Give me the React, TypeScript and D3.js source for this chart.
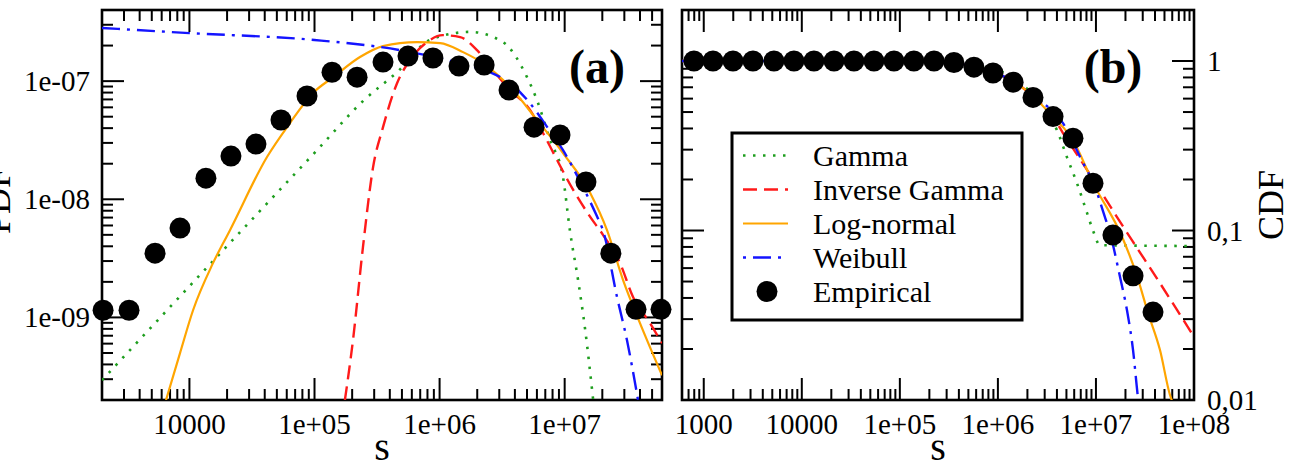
import React from "react";
import * as d3 from "d3";

// ---------- data: panel (a), probability density ----------
const pdfSizes = [2040, 3290, 5310, 8410, 13550, 21480, 34040, 53950, 87100, 1.38e5, 2.19e5, 3.53e5, 5.59e5, 8.85e5, 1.43e6, 2.27e6, 3.59e6, 5.69e6, 9.18e6, 1.48e7, 2.34e7, 3.72e7, 5.89e7];
const pdfEmpirical = [1.15e-9, 1.15e-9, 3.5e-9, 5.7e-9, 1.51e-8, 2.32e-8, 2.93e-8, 4.69e-8, 7.48e-8, 1.19e-7, 1.08e-7, 1.45e-7, 1.63e-7, 1.57e-7, 1.34e-7, 1.37e-7, 8.4e-8, 4.08e-8, 3.5e-8, 1.4e-8, 3.5e-9, 1.17e-9, 1.17e-9];

const gammaPdfS = [2000, 6620, 25400, 1.05e5, 2.44e5, 4.57e5, 8.38e5, 1.75e6, 3.21e6, 5.0e6, 6.01e6, 7.64e6, 9.7e6, 1.1e7, 1.28e7, 1.46e7, 1.69e7];
const gammaPdf = [2.94e-10, 1.15e-9, 5.27e-9, 2.61e-8, 6.78e-8, 1.19e-7, 2.23e-7, 2.61e-7, 2.14e-7, 1.08e-7, 6.9e-8, 3.17e-8, 1.54e-8, 5.48e-9, 2.07e-9, 7.8e-10, 2.0e-10];

const invGammaPdfS = [1.75e5, 2.03e5, 2.44e5, 2.94e5, 3.53e5, 4.57e5, 5.8e5, 7.93e5, 1.06e6, 1.46e6, 1.99e6, 2.67e6, 3.66e6, 5.28e6, 6.71e6, 8.69e6, 1.17e7, 1.6e7, 2.03e7, 2.77e7, 3.52e7, 4.81e7, 6.0e7];
const invGammaPdf = [2.0e-10, 6.4e-10, 3.94e-9, 1.87e-8, 4.08e-8, 9.6e-8, 1.51e-7, 2.14e-7, 2.45e-7, 2.36e-7, 1.83e-7, 1.24e-7, 8.4e-8, 5.7e-8, 3.64e-8, 2.15e-8, 1.2e-8, 7.1e-9, 4.98e-9, 2.88e-9, 1.49e-9, 8.95e-10, 6.05e-10];

const logNormalPdfS = [6500, 8410, 10690, 15430, 21100, 41700, 63700, 97200, 1.41e5, 2.31e5, 3.53e5, 6.6e5, 1.01e6, 1.54e6, 2.22e6, 3.66e6, 6.01e6, 9.7e6, 1.6e7, 2.18e7, 2.93e7, 4.0e7, 6.0e7];
const logNormalPdf = [2.0e-10, 4.99e-10, 1.15e-9, 2.88e-9, 5.48e-9, 2.28e-8, 4.42e-8, 7.93e-8, 1.08e-7, 1.6e-7, 1.98e-7, 2.14e-7, 2.1e-7, 1.76e-7, 1.42e-7, 8.9e-8, 4.69e-8, 2.46e-8, 1.13e-8, 5.48e-9, 2.07e-9, 8.95e-10, 3.24e-10];

const weibullPdfS = [2000, 1.0e4, 1.0e5, 4.82e5, 1.43e6, 2.53e6, 3.66e6, 5.28e6, 7.23e6, 9.7e6, 1.4e7, 1.82e7, 2.02e7, 2.62e7, 3.15e7, 3.86e7];
const weibullPdf = [2.82e-7, 2.55e-7, 2.23e-7, 1.83e-7, 1.42e-7, 1.19e-7, 9.6e-8, 6.5e-8, 4.1e-8, 2.6e-8, 1.27e-8, 7.1e-9, 5.5e-9, 1.49e-9, 6.4e-10, 2.0e-10];

// ---------- data: panel (b), complementary cumulative distribution ----------
const cdfSizes = [794, 1242, 1987, 3177, 5200, 8318, 13300, 21300, 34040, 54450, 87100, 1.39e5, 2.23e5, 3.56e5, 5.7e5, 8.91e5, 1.43e6, 2.28e6, 3.65e6, 5.83e6, 9.33e6, 1.49e7, 2.39e7, 3.82e7];
const cdfEmpirical = [1, 1, 1, 1, 1, 1, 1, 1, 1, 1, 1, 1, 1, 0.98, 0.92, 0.85, 0.75, 0.61, 0.47, 0.35, 0.19, 0.094, 0.054, 0.033];

const gammaCdfS = [600, 1.0e5, 3.24e5, 6.56e5, 1.24e6, 2.12e6, 3.02e6, 4.01e6, 5.07e6, 6.41e6, 8.11e6, 9.33e6, 1.1e7, 1.0e8];
const gammaCdf = [1, 1, 0.97, 0.92, 0.84, 0.66, 0.51, 0.39, 0.27, 0.19, 0.127, 0.1, 0.082, 0.081];

const invGammaCdfS = [600, 1.0e5, 3.3e5, 8.9e5, 1.43e6, 2.28e6, 3.65e6, 4.61e6, 6.88e6, 1.1e7, 1.64e7, 2.62e7, 4.2e7, 6.71e7, 1.0e8];
const invGammaCdf = [1, 1, 0.975, 0.86, 0.76, 0.62, 0.468, 0.376, 0.264, 0.173, 0.12, 0.079, 0.052, 0.034, 0.0236];

const logNormalCdfS = [600, 1.0e5, 3.3e5, 8.9e5, 1.43e6, 2.28e6, 3.65e6, 5.83e6, 9.33e6, 1.85e7, 2.62e7, 3.4e7, 4.5e7, 5.69e7, 6.5e7];
const logNormalCdf = [1, 1, 0.975, 0.86, 0.76, 0.62, 0.468, 0.342, 0.191, 0.0916, 0.054, 0.0326, 0.0197, 0.0107, 0.0088];

const weibullCdfS = [600, 1.0e5, 3.3e5, 8.9e5, 1.43e6, 2.28e6, 2.88e6, 4.61e6, 6.88e6, 1.03e7, 1.18e7, 1.39e7, 1.76e7, 2.07e7, 2.39e7, 2.68e7, 2.9e7];
const weibullCdf = [1, 1, 0.975, 0.86, 0.76, 0.62, 0.565, 0.43, 0.272, 0.166, 0.13, 0.0966, 0.0532, 0.034, 0.0197, 0.0104, 0.0075];

// ---------- tick labels ----------
const pdfXTickValues = [1e4, 1e5, 1e6, 1e7];
const pdfXTickLabels = ["10000", "1e+05", "1e+06", "1e+07"];
const pdfYTickValues = [1e-9, 1e-8, 1e-7];
const pdfYTickLabels = ["1e-09", "1e-08", "1e-07"];
const cdfXTickValues = [1e3, 1e4, 1e5, 1e6, 1e7, 1e8];
const cdfXTickLabels = ["1000", "10000", "1e+05", "1e+06", "1e+07", "1e+08"];
const cdfYTickValues = [0.01, 0.1, 1];
const cdfYTickLabels = ["0,01", "0,1", "1"];

const legendNames = ["Gamma", "Inverse Gamma", "Log-normal", "Weibull", "Empirical"];

// ---------- styling ----------
const FONT = "Liberation Serif, Times New Roman, Times, serif";
const TXT: React.CSSProperties = { fontFamily: FONT };

type StyleKey = "gamma" | "invGamma" | "logNormal" | "weibull";
const LINE_STYLES: Record<StyleKey, { stroke: string; width: number; dash: string; legendOffset: number }> = {
  gamma: { stroke: "#1e9e1e", width: 2.6, dash: "2.5,7.5", legendOffset: 0 },
  invGamma: { stroke: "#ff1a1a", width: 2.4, dash: "14,7", legendOffset: 0 },
  logNormal: { stroke: "#ffa500", width: 2.2, dash: "none", legendOffset: 0 },
  weibull: { stroke: "#1414ff", width: 2.4, dash: "18,7,3,7", legendOffset: 25 },
};

const PANEL_A = { left: 102, right: 662, top: 10, bottom: 400 };
const PANEL_B = { left: 682, right: 1194, top: 10, bottom: 400 };
const MAJOR = 22;
const MINOR = 11;
const DOT_R = 10.5;

function logTicks(lo: number, hi: number) {
  const major: number[] = [];
  const minor: number[] = [];
  for (let e = Math.floor(Math.log10(lo)); e <= Math.ceil(Math.log10(hi)); e++) {
    for (let k = 1; k <= 9; k++) {
      const v = k * Math.pow(10, e);
      if (v > lo * 1.0001 && v < hi * 0.9999) (k === 1 ? major : minor).push(v);
    }
  }
  return { major, minor };
}

type Scale = d3.ScaleLogarithmic<number, number>;
type Box = { left: number; right: number; top: number; bottom: number };

function Frame({ box, x, y }: { box: Box; x: Scale; y: Scale }) {
  const xt = logTicks(x.domain()[0], x.domain()[1]);
  const yt = logTicks(y.domain()[0], y.domain()[1]);
  const lines: React.ReactElement[] = [];
  const push = (key: string, x1: number, y1: number, x2: number, y2: number) =>
    lines.push(<line key={key} x1={x1} y1={y1} x2={x2} y2={y2} />);
  xt.major.forEach((v, i) => {
    const px = x(v);
    push(`xb${i}`, px, box.bottom, px, box.bottom - MAJOR);
    push(`xt${i}`, px, box.top, px, box.top + MAJOR);
  });
  xt.minor.forEach((v, i) => {
    const px = x(v);
    push(`xbm${i}`, px, box.bottom, px, box.bottom - MINOR);
    push(`xtm${i}`, px, box.top, px, box.top + MINOR);
  });
  yt.major.forEach((v, i) => {
    const py = y(v);
    push(`yl${i}`, box.left, py, box.left + MAJOR, py);
    push(`yr${i}`, box.right, py, box.right - MAJOR, py);
  });
  yt.minor.forEach((v, i) => {
    const py = y(v);
    push(`ylm${i}`, box.left, py, box.left + MINOR, py);
    push(`yrm${i}`, box.right, py, box.right - MINOR, py);
  });
  return (
    <g>
      <g stroke="#000" strokeWidth={2}>{lines}</g>
      <rect
        x={box.left}
        y={box.top}
        width={box.right - box.left}
        height={box.bottom - box.top}
        fill="none"
        stroke="#000"
        strokeWidth={2.6}
      />
    </g>
  );
}

function Curve({ s, v, x, y, style, clip }: { s: number[]; v: number[]; x: Scale; y: Scale; style: StyleKey; clip: string }) {
  const st = LINE_STYLES[style];
  const gen = d3
    .line<number>()
    .x((d) => x(d))
    .y((_, i) => y(v[i]))
    .curve(d3.curveMonotoneX);
  return (
    <path
      d={gen(s) || ""}
      fill="none"
      stroke={st.stroke}
      strokeWidth={st.width}
      strokeDasharray={st.dash}
      clipPath={`url(#${clip})`}
    />
  );
}

export default function App() {
  const xA = d3.scaleLog().domain([2000, 6e7]).range([PANEL_A.left, PANEL_A.right]);
  const yA = d3.scaleLog().domain([2e-10, 4e-7]).range([PANEL_A.bottom, PANEL_A.top]);
  const xB = d3.scaleLog().domain([600, 1e8]).range([PANEL_B.left, PANEL_B.right]);
  const yB = d3.scaleLog().domain([0.01, 2]).range([PANEL_B.bottom, PANEL_B.top]);

  const legendX = 732;
  const legendY = 133;
  const legendW = 290;
  const legendH = 187;
  const legendStyles: (StyleKey | "dot")[] = ["gamma", "invGamma", "logNormal", "weibull", "dot"];

  return (
    <svg
      width={1302}
      height={465}
      viewBox="0 0 1302 465"
      style={{ position: "absolute", left: 0, top: 0, background: "#fff", fontFamily: FONT }}
    >
      <defs>
        <clipPath id="clipA">
          <rect x={PANEL_A.left} y={PANEL_A.top} width={PANEL_A.right - PANEL_A.left} height={PANEL_A.bottom - PANEL_A.top} />
        </clipPath>
        <clipPath id="clipB">
          <rect x={PANEL_B.left} y={PANEL_B.top} width={PANEL_B.right - PANEL_B.left} height={PANEL_B.bottom - PANEL_B.top} />
        </clipPath>
      </defs>
      <rect x={0} y={0} width={1302} height={465} fill="#fff" />

      {/* Panel (a): PDF */}
      <Frame box={PANEL_A} x={xA} y={yA} />
      <Curve s={gammaPdfS} v={gammaPdf} x={xA} y={yA} style="gamma" clip="clipA" />
      <Curve s={invGammaPdfS} v={invGammaPdf} x={xA} y={yA} style="invGamma" clip="clipA" />
      <Curve s={logNormalPdfS} v={logNormalPdf} x={xA} y={yA} style="logNormal" clip="clipA" />
      <Curve s={weibullPdfS} v={weibullPdf} x={xA} y={yA} style="weibull" clip="clipA" />
      <g fill="#000">
        {pdfSizes.map((s, i) => (
          <circle key={i} cx={xA(s)} cy={yA(pdfEmpirical[i])} r={DOT_R} />
        ))}
      </g>
      <g fontSize={29} fill="#000">
        {pdfXTickValues.map((v, i) => (
          <text key={i} x={xA(v)} y={434} textAnchor="middle" style={TXT}>{pdfXTickLabels[i]}</text>
        ))}
        {pdfYTickValues.map((v, i) => (
          <text key={i} x={90} y={yA(v) + 10} textAnchor="end" style={TXT}>{pdfYTickLabels[i]}</text>
        ))}
      </g>
      <text x={(PANEL_A.left + PANEL_A.right) / 2} y={460} fontSize={40} textAnchor="middle" style={TXT}>s</text>
      <text transform="translate(10,201) rotate(-90)" fontSize={36} textAnchor="middle" style={TXT}>PDF</text>
      <text x={597} y={83} fontSize={48} fontWeight="bold" textAnchor="middle" style={TXT}>(a)</text>

      {/* Panel (b): CDF */}
      <Frame box={PANEL_B} x={xB} y={yB} />
      <Curve s={gammaCdfS} v={gammaCdf} x={xB} y={yB} style="gamma" clip="clipB" />
      <Curve s={invGammaCdfS} v={invGammaCdf} x={xB} y={yB} style="invGamma" clip="clipB" />
      <Curve s={logNormalCdfS} v={logNormalCdf} x={xB} y={yB} style="logNormal" clip="clipB" />
      <Curve s={weibullCdfS} v={weibullCdf} x={xB} y={yB} style="weibull" clip="clipB" />
      <g fill="#000">
        {cdfSizes.map((s, i) => (
          <circle key={i} cx={xB(s)} cy={yB(cdfEmpirical[i])} r={DOT_R} />
        ))}
      </g>
      <g fontSize={29} fill="#000">
        {cdfXTickValues.map((v, i) => (
          <text key={i} x={xB(v)} y={434} textAnchor="middle" style={TXT}>{cdfXTickLabels[i]}</text>
        ))}
        {cdfYTickValues.map((v, i) => (
          <text key={i} x={1207} y={yB(v) + 10} textAnchor="start" style={TXT}>{cdfYTickLabels[i]}</text>
        ))}
      </g>
      <text x={(PANEL_B.left + PANEL_B.right) / 2} y={460} fontSize={40} textAnchor="middle" style={TXT}>s</text>
      <text transform="translate(1283,205) rotate(-90)" fontSize={36} textAnchor="middle" style={TXT}>CDF</text>
      <text x={1113} y={83} fontSize={48} fontWeight="bold" textAnchor="middle" style={TXT}>(b)</text>

      {/* Legend */}
      <rect x={legendX} y={legendY} width={legendW} height={legendH} fill="#fff" stroke="#000" strokeWidth={3} />
      {legendNames.map((name, i) => {
        const base = 166 + i * 34;
        const mid = base - 10.5;
        const key = legendStyles[i];
        return (
          <g key={name}>
            {key === "dot" ? (
              <circle cx={767} cy={mid} r={DOT_R} fill="#000" />
            ) : (
              <line
                x1={743}
                x2={788}
                y1={mid}
                y2={mid}
                stroke={LINE_STYLES[key].stroke}
                strokeWidth={LINE_STYLES[key].width}
                strokeDasharray={LINE_STYLES[key].dash}
                strokeDashoffset={LINE_STYLES[key].legendOffset}
              />
            )}
            <text x={813} y={base} fontSize={30} fill="#000" style={TXT}>{name}</text>
          </g>
        );
      })}
    </svg>
  );
}
